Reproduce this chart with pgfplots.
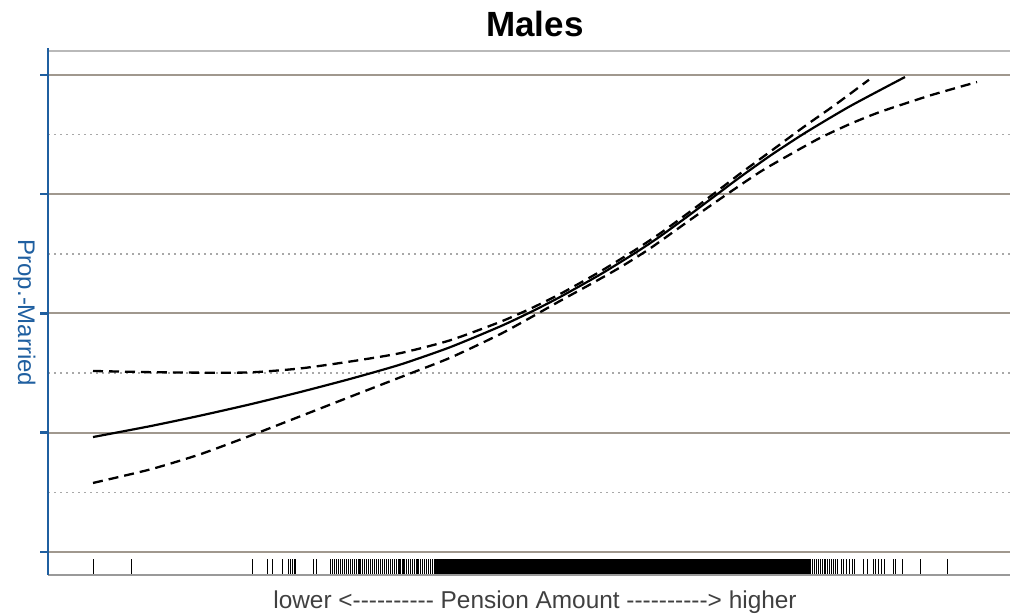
\documentclass[border=0pt]{standalone}
\usepackage{pgfplots}
\pgfplotsset{compat=1.18}
\usepackage{fontspec}
\setmainfont{Liberation Sans}
\newfontfamily\labfont{Liberation Sans}[Ligatures=TeXOff]
\definecolor{axblue}{HTML}{1F5FA0}
\definecolor{gridbrown}{HTML}{A0988E}
\definecolor{dotgrey}{HTML}{A8A8A8}
\definecolor{labgrey}{HTML}{404040}
\begin{document}
\begin{tikzpicture}
\useasboundingbox (0,0) rectangle (505bp,307bp);
\clip (0,0) rectangle (505bp,307bp);
\begin{axis}[
  name=ax,
  at={(24bp,19.5bp)}, anchor=south west,
  scale only axis,
  x=0.5bp, y=59.625bp,
  xmin=48, xmax=1022, ymin=-0.1929, ymax=4.2013,
  axis line style={draw=none},
  xtick=\empty,
  ytick={0,1,2,3,4}, yticklabels={},
  minor ytick={0.5,1.5,2.5,3.5},
  ytick pos=left, tick align=outside,
  major tick length=4bp, minor tick length=0pt,
  major tick style={axblue, line width=1.25bp},
  ymajorgrids, yminorgrids,
  major grid style={gridbrown, line width=1bp},
  minor grid style={dotgrey, line width=0.85bp, dash pattern=on 0.85bp off 2.15bp},
  xlabel={\labfont lower <---------- Pension Amount ----------> higher},
  xlabel style={at={(0.5,0)}, anchor=base, yshift=-16.5bp, font=\fontsize{12.2bp}{14bp}\selectfont, text=labgrey},
]
% rug
\addplot[black, line width=0.5bp, only marks, mark=|, mark size=4bp]
  table[row sep=\\, y expr=-0.13] {x\\ 93\\ 131\\ 253\\ 268\\ 273\\ 283\\ 289\\ 291\\ 293\\ 294.5\\ 296\\ 314\\ 317\\
  331\\ 333\\ 335\\ 337\\ 339\\ 341\\ 343\\ 345\\ 347\\ 349\\ 351\\ 353\\ 355\\ 357\\ 359\\ 360\\ 361\\ 363\\ 365\\ 367\\ 369\\ 371\\ 373\\ 375\\ 377\\ 379\\ 381\\ 383\\ 385\\ 387\\ 389\\ 391\\ 393\\ 395\\ 397\\ 399\\ 400\\ 401\\ 403\\ 404\\ 405\\ 407\\ 409\\ 411\\ 413\\ 415\\ 417\\ 418\\ 419\\ 421\\ 423\\ 425\\ 427\\ 429\\ 431\\ 433\\ 435\\
  811\\ 813\\ 815\\ 817\\ 819\\ 821\\ 823\\ 825\\ 826\\ 828\\ 830\\ 832\\ 834\\ 836\\ 838\\
  841.7\\ 844\\ 846.7\\ 850\\ 852.7\\ 855\\ 863.3\\ 867.3\\ 874\\ 876\\ 878.3\\ 881.7\\ 885\\ 894\\ 896\\ 902.7\\ 920.7\\ 947.7\\};
\addplot[black, line width=1.6bp, only marks, mark=|, mark size=4bp]
  table[row sep=\\, y expr=-0.13] {x\\ 437\\ 440\\ 443\\ 446\\ 449\\ 452\\ 455\\ 458\\ 461\\ 464\\ 467\\ 470\\ 473\\ 476\\ 479\\ 482\\ 485\\ 488\\ 491\\ 494\\ 497\\ 500\\ 503\\ 506\\ 509\\ 512\\ 515\\ 518\\ 521\\ 524\\ 527\\ 530\\ 533\\ 536\\ 539\\ 542\\ 545\\ 548\\ 551\\ 554\\ 557\\ 560\\ 563\\ 566\\ 569\\ 572\\ 575\\ 578\\ 581\\ 584\\ 587\\ 590\\ 593\\ 596\\ 599\\ 602\\ 605\\ 608\\ 611\\ 614\\ 617\\ 620\\ 623\\ 626\\ 629\\ 632\\ 635\\ 638\\ 641\\ 644\\ 647\\ 650\\ 653\\ 656\\ 659\\ 662\\ 665\\ 668\\ 671\\ 674\\ 677\\ 680\\ 683\\ 686\\ 689\\ 692\\ 695\\ 698\\ 701\\ 704\\ 707\\ 710\\ 713\\ 716\\ 719\\ 722\\ 725\\ 728\\ 731\\ 734\\ 737\\ 740\\ 743\\ 746\\ 749\\ 752\\ 755\\ 758\\ 761\\ 764\\ 767\\ 770\\ 773\\ 776\\ 779\\ 782\\ 785\\ 788\\ 791\\ 794\\ 797\\ 800\\ 803\\ 806\\ 809\\};
% fit
\addplot[black, line width=1.1bp, smooth, tension=0.4] coordinates {
 (93,0.964) (150,1.055) (200,1.143) (250,1.238) (300,1.341) (350,1.451) (400,1.571)
 (450,1.717) (500,1.891) (530,2.009) (560,2.138) (600,2.326) (636,2.512) (660,2.646)
 (690,2.829) (718,3.005) (740,3.143) (770,3.322) (805,3.514) (850,3.738) (905,3.983)};
% upper band
\addplot[black, line width=1.15bp, dash pattern=on 5bp off 3bp, smooth, tension=0.4] coordinates {
 (93,1.518) (150,1.508) (200,1.504) (250,1.506) (300,1.539) (350,1.597) (400,1.667)
 (450,1.775) (500,1.929) (530,2.039) (560,2.163) (600,2.351) (636,2.537) (660,2.671)
 (690,2.854) (718,3.031) (740,3.172) (770,3.356) (805,3.572) (835,3.749) (869,3.960)};
% lower band
\addplot[black, line width=1.15bp, dash pattern=on 5bp off 3bp, smooth, tension=0.4] coordinates {
 (93,0.579) (150,0.692) (200,0.819) (250,0.974) (300,1.137) (350,1.301) (400,1.464)
 (450,1.628) (500,1.826) (530,1.963) (560,2.105) (590,2.243) (620,2.386) (650,2.545)
 (690,2.784) (720,2.960) (760,3.187) (790,3.333) (820,3.472) (850,3.589) (880,3.690)
 (930,3.828) (977,3.941)};
\end{axis}
\draw[gray!55, line width=0.75bp] (ax.north west) -- (ax.north east);
\draw[gray!80, line width=0.75bp] (ax.south west) -- (ax.south east);
\draw[axblue, line width=1.25bp] (ax.south west) -- ([yshift=1.5bp]ax.north west);
\node[anchor=base, font=\fontsize{17.5bp}{21bp}\selectfont\bfseries] at ([yshift=7bp]ax.north) {Males};
\node[rotate=-90, anchor=base, text=axblue, font=\fontsize{12bp}{14bp}\selectfont] at ([xshift=-15bp]ax.west) {Prop.-Married};
\end{tikzpicture}
\end{document}
